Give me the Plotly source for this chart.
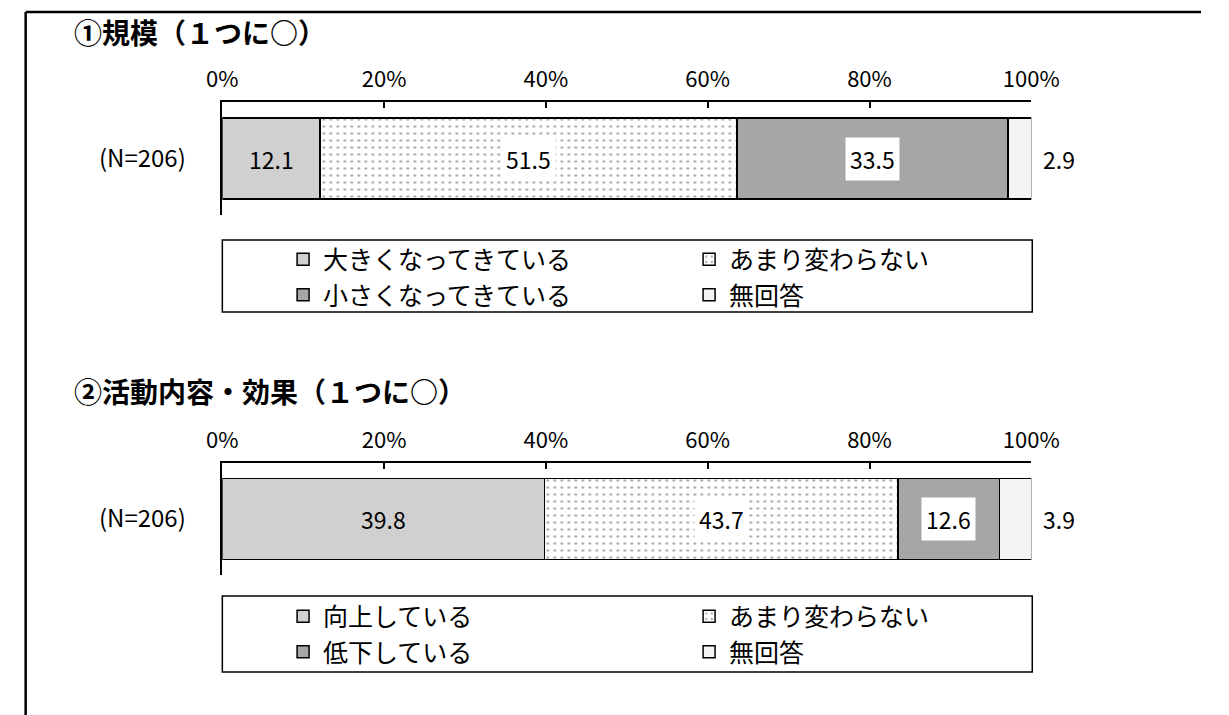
import plotly.graph_objects as go

W, H = 1229, 715
FONT = "Noto Sans CJK JP"
NUMFONT = "Noto Sans CJK JP"

# ---- data ----
titles = ["①規模（１つに○）", "②活動内容・効果（１つに○）"]
row_label = "(N=206)"
series1_names = ["大きくなってきている", "あまり変わらない", "小さくなってきている", "無回答"]
series1_values = [12.1, 51.5, 33.5, 2.9]
series2_names = ["向上している", "あまり変わらない", "低下している", "無回答"]
series2_values = [39.8, 43.7, 12.6, 3.9]
tick_vals = [0, 20, 40, 60, 80, 100]
tick_text = ["0%", "20%", "40%", "60%", "80%", "100%"]

# ---- styles ----
fills = ["#d0d0d0", "#ffffff", "#a6a6a6", "#f4f4f4"]
patterns = [None, ".", None, None]
label_box = [False, True, True, None]  # None => outside label


def px_x(p):
    return p / W


def px_y(p):
    return 1 - p / H


fig = go.Figure()

charts = [
    dict(names=series1_names, values=series1_values, xa="x", ya="y", legend="legend"),
    dict(names=series2_names, values=series2_values, xa="x2", ya="y2", legend="legend2"),
]

for c in charts:
    for i, (nm, v) in enumerate(zip(c["names"], c["values"])):
        marker = dict(color=fills[i], line=dict(color="#000000", width=1.5))
        if patterns[i]:
            marker["pattern"] = dict(shape=patterns[i], fgcolor="#505050", bgcolor="#ffffff",
                                     size=7, solidity=0.12)
        fig.add_trace(go.Bar(
            x=[v], y=[row_label], orientation="h", name=nm, marker=marker,
            width=0.72, xaxis=c["xa"], yaxis=c["ya"], legend=c["legend"],
            hoverinfo="skip", showlegend=True,
        ))

    # value labels
    cum = 0
    for i, v in enumerate(c["values"]):
        center = cum + v / 2
        if label_box[i] is None:
            fig.add_annotation(x=100, y=row_label, xref=c["xa"], yref=c["ya"],
                               text=f"{v:.1f}", showarrow=False, xanchor="left", xshift=10,
                               font=dict(family=NUMFONT, size=23, color="#000"))
        else:
            fig.add_annotation(x=center, y=row_label, xref=c["xa"], yref=c["ya"],
                               text=f"{v:.1f}", showarrow=False,
                               bgcolor="#ffffff" if label_box[i] else None,
                               borderpad=4,
                               font=dict(family=NUMFONT, size=23, color="#000"))
        cum += v

axis_common_x = dict(range=[0, 100], side="top", tickvals=tick_vals, ticktext=tick_text,
                     ticks="inside", ticklen=6, tickcolor="#000", tickwidth=1.5,
                     showline=True, linecolor="#000", linewidth=1.5, showgrid=False,
                     zeroline=False, fixedrange=True,
                     tickfont=dict(family=NUMFONT, size=22, color="#000"),
                     ticklabelstandoff=4,
                     domain=[px_x(214), px_x(1053)])
axis_common_y = dict(type="category", ticks="inside", tickson="boundaries", ticklen=6,
                     tickcolor="#000", tickwidth=1.5, showline=True, linecolor="#000",
                     linewidth=1.5, showgrid=False, zeroline=False, fixedrange=True,
                     tickfont=dict(family=NUMFONT, size=24, color="#000"),
                     ticklabelstandoff=30)

legend_common = dict(orientation="h", xanchor="left", yanchor="middle",
                     entrywidth=361, traceorder="normal", bgcolor="rgba(0,0,0,0)",
                     font=dict(family=FONT, size=25, color="#000"), itemclick=False,
                     itemdoubleclick=False)

fig.update_layout(
    width=W, height=H, margin=dict(l=0, r=0, t=0, b=0),
    paper_bgcolor="#ffffff", plot_bgcolor="rgba(0,0,0,0)",
    barmode="stack",
    xaxis=dict(anchor="y", **axis_common_x),
    yaxis=dict(anchor="x", domain=[px_y(215), px_y(102)], **axis_common_y),
    xaxis2=dict(anchor="y2", **axis_common_x),
    yaxis2=dict(anchor="x2", domain=[px_y(575), px_y(463)], **axis_common_y),
    legend=dict(x=px_x(277), y=px_y(277), **legend_common),
    legend2=dict(x=px_x(277), y=px_y(634), **legend_common),
    showlegend=True,
)

# titles
for t, yp in zip(titles, [32, 391]):
    fig.add_annotation(x=px_x(58), y=px_y(yp), xref="paper", yref="paper", text=f"<b>{t}</b>",
                       showarrow=False, xanchor="left", yanchor="middle",
                       font=dict(family=FONT, size=28, color="#000"))

# legend boxes and outer frame
for y0, y1 in [(240, 312), (596, 672)]:
    fig.add_shape(type="rect", xref="paper", yref="paper", x0=px_x(214), x1=px_x(1054),
                  y0=px_y(y1), y1=px_y(y0), line=dict(color="#000", width=1.5))
fig.add_shape(type="line", xref="paper", yref="paper", x0=px_x(10), x1=1, y0=px_y(12),
              y1=px_y(12), line=dict(color="#000", width=2.5))
fig.add_shape(type="line", xref="paper", yref="paper", x0=px_x(10), x1=px_x(10), y0=0,
              y1=px_y(12), line=dict(color="#000", width=2.5))

fig.write_html("out.html", config={"displayModeBar": False},
               post_script="document.body.style.margin='0px';document.body.style.overflow='hidden';")
